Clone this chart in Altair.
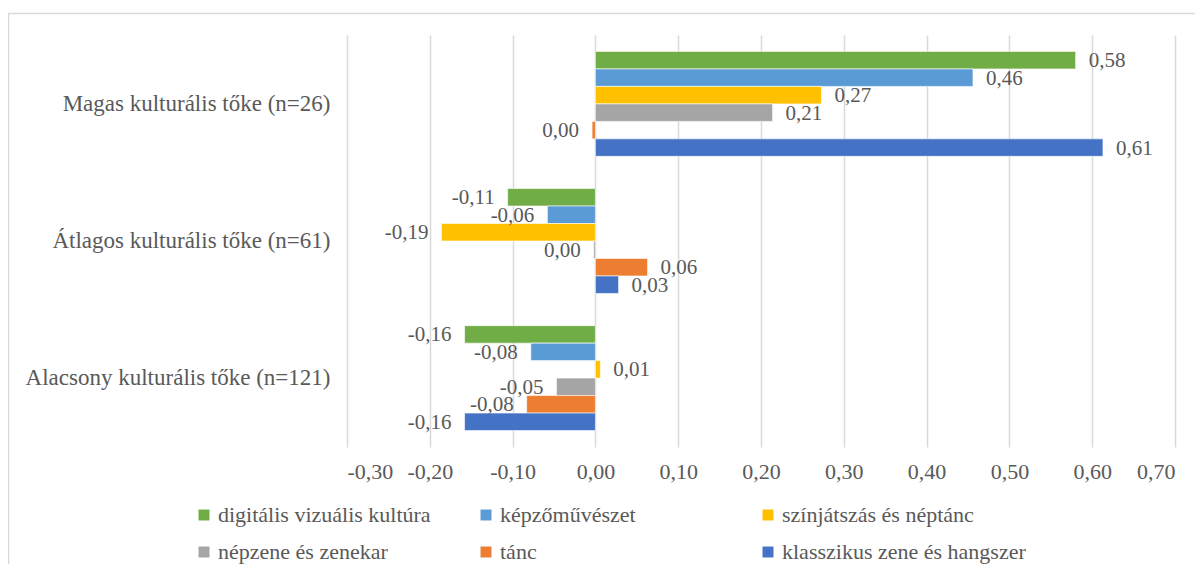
import altair as alt
import pandas as pd

categories = ["Magas kulturális tőke (n=26)", "Átlagos kulturális tőke (n=61)", "Alacsony kulturális tőke (n=121)"]
series = ["digitális vizuális kultúra", "képzőművészet", "színjátszás és néptánc",
          "népzene és zenekar", "tánc", "klasszikus zene és hangszer"]
colors = ["#70AD47", "#5B9BD5", "#FFC000", "#A5A5A5", "#ED7D31", "#4472C4"]

digitalis = [0.580, -0.106, -0.158]
kepzo = [0.456, -0.058, -0.078]
szinjatszas = [0.273, -0.186, 0.006]
nepzene = [0.214, -0.002, -0.047]
tanc = [-0.004, 0.063, -0.083]
klasszikus = [0.613, 0.028, -0.158]

x_ticks = [-0.3, -0.2, -0.1, 0.0, 0.1, 0.2, 0.3, 0.4, 0.5, 0.6, 0.7]

all_vals = [digitalis, kepzo, szinjatszas, nepzene, tanc, klasszikus]


def fmt(v):
    s = f"{v:.2f}"
    if s == "-0.00":
        s = "0.00"
    return s.replace(".", ",")


rows = []
for s, vals in zip(series, all_vals):
    for c, v in zip(categories, vals):
        rows.append({"kat": c, "ser": s, "v": v, "label": fmt(v)})
df = pd.DataFrame(rows)

FONT = "Liberation Serif"
TXT = "#595959"

y_enc = alt.Y("kat:N", sort=categories,
              scale=alt.Scale(paddingInner=0.235, paddingOuter=0.12),
              axis=alt.Axis(title=None, domain=False, ticks=False, grid=False,
                            labelPadding=17, labelFont=FONT, labelFontSize=23,
                            labelColor=TXT, labelLimit=400))
yoff = alt.YOffset("ser:N", sort=series, scale=alt.Scale(paddingInner=0, paddingOuter=0))
x_scale = alt.Scale(domain=[-0.3, 0.7], nice=False, zero=False)

bars = alt.Chart(df).mark_bar(stroke="white", strokeWidth=0.6).encode(
    x=alt.X("v:Q", scale=x_scale,
            axis=alt.Axis(title=None, values=x_ticks, domain=False, ticks=False,
                          grid=True, gridColor="#d9d9d9", gridWidth=1.5,
                          labelPadding=14, labelFont=FONT, labelFontSize=22,
                          labelColor=TXT,
                          labelExpr="(datum.value < -0.0001 ? '-' : '') + replace(format(abs(datum.value), '.2f'), '.', ',')")),
    y=y_enc,
    yOffset=yoff,
    color=alt.Color("ser:N", sort=series,
                    scale=alt.Scale(domain=series, range=colors),
                    legend=alt.Legend(title=None, orient="none", legendX=-154, legendY=469,
                                      direction="horizontal", columns=3, gridAlign="all",
                                      columnPadding=13, rowPadding=15,
                                      symbolType="square", symbolSize=120,
                                      symbolStrokeWidth=0, symbolOffset=0,
                                      labelFont=FONT, labelFontSize=22, labelColor=TXT,
                                      labelOffset=3, labelLimit=400)),
)

pos_text = alt.Chart(df).transform_filter("datum.v >= 0").mark_text(
    align="left", baseline="middle", dx=13, dy=1, font=FONT, fontSize=21, color=TXT
).encode(x=alt.X("v:Q", scale=x_scale), y=alt.Y("kat:N", sort=categories), yOffset=yoff, text="label:N")

neg_text = alt.Chart(df).transform_filter("datum.v < 0").mark_text(
    align="right", baseline="middle", dx=-13, dy=1, font=FONT, fontSize=21, color=TXT
).encode(x=alt.X("v:Q", scale=x_scale), y=alt.Y("kat:N", sort=categories), yOffset=yoff, text="label:N")

frame = alt.Chart(pd.DataFrame({"a": [0]})).mark_rect(
    fill=None, stroke="#d9d9d9", strokeWidth=1.5, clip=False
).encode(x=alt.value(-338.5), x2=alt.value(880), y=alt.value(-21.5), y2=alt.value(600))

chart = alt.layer(frame, bars, pos_text, neg_text).properties(
    width=828, height=412,
    autosize=alt.AutoSizeParams(type="none"),
    padding={"left": 339, "top": 27, "right": 20, "bottom": 117},
).configure_view(stroke=None)

chart.save("out.html", embed_options={"renderer": "svg", "actions": False})
